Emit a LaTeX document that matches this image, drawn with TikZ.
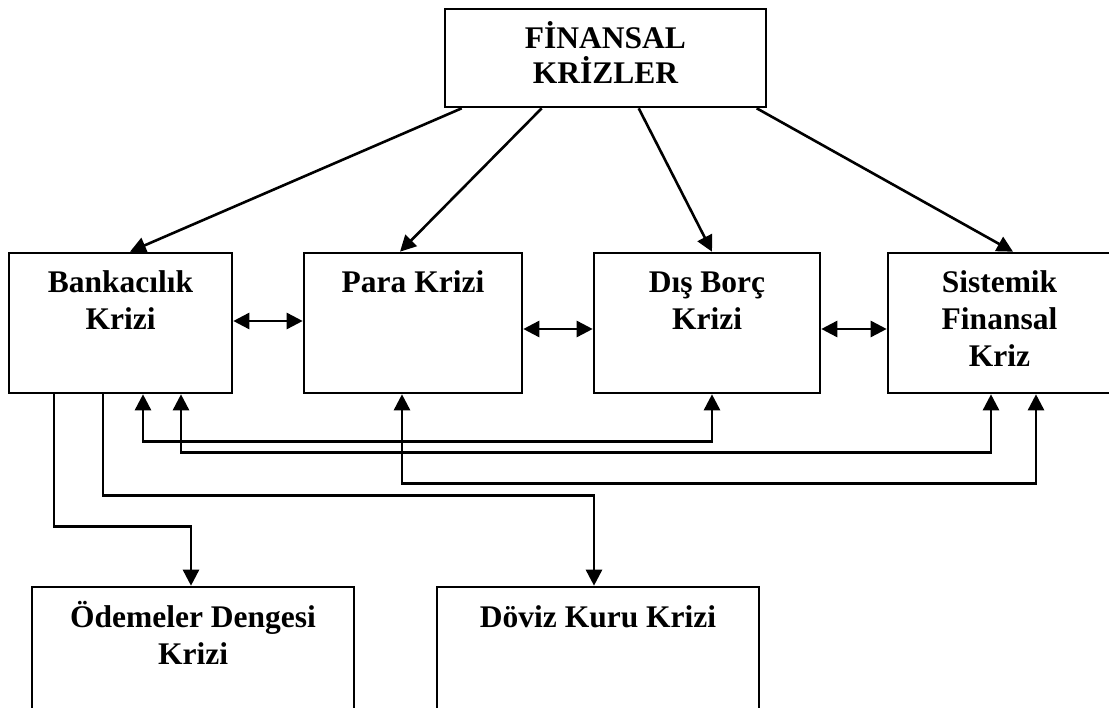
\documentclass[tikz,border=0pt]{standalone}
\usepackage{fontspec}
\setmainfont{Liberation Serif}
\usetikzlibrary{arrows.meta}

\begin{document}
\begin{tikzpicture}[x=1pt, y=1pt,
  kutu/.style={draw, line width=2.6pt, inner sep=0pt, align=flush center,
    font=\bfseries\fontsize{31.5}{37}\selectfont, text height=40pt},
  ok/.style={line width=2.6pt, -{Triangle[length=16pt,width=16pt]}},
  iki/.style={line width=2.6pt,
    {Triangle[length=16pt,width=16pt]}-{Triangle[length=16pt,width=16pt]}}]
  \useasboundingbox (0,0) rectangle (1109,-708);
  \clip (0,0) rectangle (1109,-708);

  \node[kutu, text width=321pt, text depth=58pt] (fk) at (605.5,-58) {FİNANSAL\\[-2pt]KRİZLER};

  \node[kutu, text width=223pt, text depth=100pt] (bank) at (120.5,-323) {Bankacılık\\Krizi};
  \node[kutu, text width=218pt, text depth=100pt] (para) at (413,-323) {Para Krizi};
  \node[kutu, text width=226pt, text depth=100pt] (dis) at (707,-323) {Dış Borç\\Krizi};
  \node[kutu, text width=223pt, text depth=100pt] (sis) at (999.5,-323) {Sistemik\\Finansal\\Kriz};

  \node[kutu, text width=322pt, text depth=100pt] (odeme) at (193,-657) {Ödemeler Dengesi\\Krizi};
  \node[kutu, text width=322pt, text depth=100pt] (doviz) at (598,-657) {Döviz Kuru Krizi};

  \draw[ok] ([xshift=18pt]fk.south west) -- ([xshift=9.5pt]bank.north);
  \draw[ok] ([xshift=98pt]fk.south west) -- ([xshift=-13pt]para.north);
  \draw[ok] ([xshift=195pt]fk.south west) -- ([xshift=5pt]dis.north);
  \draw[ok] ([xshift=313pt]fk.south west) -- ([xshift=13.5pt]sis.north);

  \draw[iki] ([yshift=2pt]bank.east) -- ([yshift=2pt]para.west);
  \draw[iki] ([yshift=-6pt]para.east) -- ([yshift=-6pt]dis.west);
  \draw[iki] ([yshift=-6pt]dis.east) -- ([yshift=-6pt]sis.west);

  \draw[iki] ([xshift=22.5pt]bank.south) -- ++(0,-47) -| ([xshift=5pt]dis.south);
  \draw[iki] ([xshift=60.5pt]bank.south) -- ++(0,-58) -| ([xshift=-8.5pt]sis.south);
  \draw[iki] ([xshift=-11pt]para.south) -- ++(0,-89) -| ([xshift=36.5pt]sis.south);

  \draw[ok] ([xshift=-66.5pt]bank.south) -- ++(0,-132) -| ([xshift=-2pt]odeme.north);
  \draw[ok] ([xshift=-17.5pt]bank.south) -- ++(0,-101) -| ([xshift=-4pt]doviz.north);
\end{tikzpicture}
\end{document}
